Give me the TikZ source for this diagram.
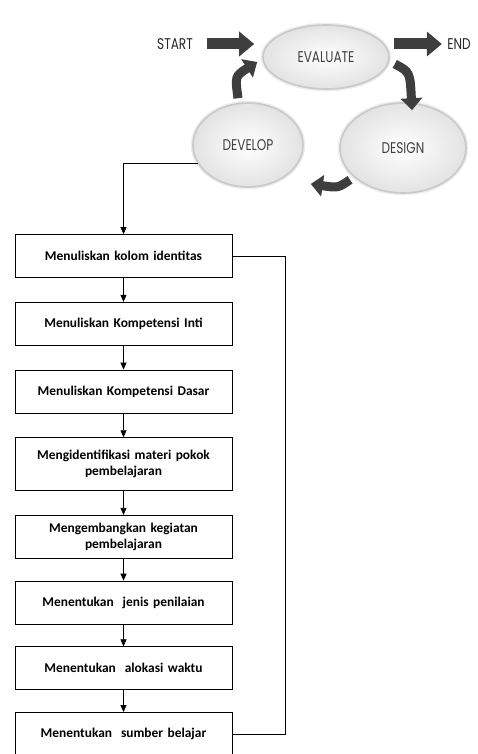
\documentclass[tikz,border=0pt]{standalone}
\usepackage{fontspec}
\newfontfamily\boxfont{Carlito}
\newfontfamily\cyclefont[FakeStretch=0.78]{Poppins}
\usetikzlibrary{positioning,shapes.geometric,arrows.meta}

\definecolor{arrowgray}{RGB}{62,62,62}

\begin{document}
\begin{tikzpicture}[x=1pt, y=1pt, node distance=24pt,
                    stepbox/.style={rectangle, draw, line width=0.7pt, minimum width=217pt,
                                    minimum height=43pt, align=center, text width=205pt,
                                    font=\boxfont\bfseries\fontsize{13.4}{16.3}\selectfont},
                    phase/.style={ellipse, draw=gray!42, line width=1.6pt, inner color=white,
                                  outer color=gray!22, preaction={draw=gray!15, line width=4.5pt},
                                  font=\cyclefont\fontsize{15.5}{17}\selectfont, text=black!75},
                    label/.style={font=\cyclefont\fontsize{15.5}{17}\selectfont, text=black!85},
                    bigarrow/.style={arrowgray, line width=9pt, -{Triangle[width=21pt, length=12pt]}},
                    flow/.style={line width=0.7pt, -{Triangle[width=6pt, length=7pt]}}]

  \useasboundingbox (0,0) rectangle (477,-754);

  % cycle
  \node[phase, minimum width=126pt, minimum height=64pt] (evaluate) at (326,-57) {EVALUATE};
  \node[phase, minimum width=110pt, minimum height=84pt] (develop) at (248,-145) {DEVELOP};
  \node[phase, minimum width=126pt, minimum height=90pt] (design) at (403,-148) {DESIGN};
  \node[label] (start) at (175,-44) {START};
  \node[label] (end) at (459,-44) {END};

  \draw[bigarrow, line width=11pt, -{Triangle[width=24pt, length=15pt]}]
    ([xshift=11pt]start.east) -- ([xshift=-8pt]start.east -| evaluate.west);
  \draw[bigarrow, line width=11pt, -{Triangle[width=24pt, length=15pt]}]
    ([xshift=4pt]end.west -| evaluate.east) -- ([xshift=-2pt]end.west);
  \draw[bigarrow] ([xshift=5pt, yshift=-7pt]evaluate.east) .. controls (410,-72) .. ([xshift=9pt, yshift=-8pt]design.north);
  \draw[bigarrow] ([xshift=-53pt, yshift=14pt]design.south) .. controls (338,-188) .. ([xshift=7pt, yshift=-39pt]develop.east);
  \draw[bigarrow] ([xshift=-10pt, yshift=4pt]develop.north) .. controls (235,-76) .. ([xshift=-5pt, yshift=-5pt]evaluate.west);

  % steps
  \node[stepbox] (b1) at (123.5,-256) {Menuliskan kolom identitas};
  \node[stepbox] (b2) [below=of b1] {Menuliskan Kompetensi Inti};
  \node[stepbox] (b3) [below=of b2] {Menuliskan Kompetensi Dasar};
  \node[stepbox, minimum height=53pt] (b4) [below=of b3] {Mengidentifikasi materi pokok\\pembelajaran};
  \node[stepbox] (b5) [below=of b4] {Mengembangkan kegiatan\\pembelajaran};
  \node[stepbox] (b6) [below=22pt of b5] {Menentukan\ \ jenis penilaian};
  \node[stepbox] (b7) [below=22pt of b6] {Menentukan\ \ alokasi waktu};
  \node[stepbox] (b8) [below=22pt of b7] {Menentukan\ \ sumber belajar};

  \draw[flow] (develop.200) -| (b1.north);

  \path[flow]
    (b1) edge (b2)
    (b2) edge (b3)
    (b3) edge (b4)
    (b4) edge (b5)
    (b5) edge (b6)
    (b6) edge (b7)
    (b7) edge (b8);

  \draw[line width=0.7pt] (b1.east) -- ([xshift=53pt]b1.east) |- (b8.east);

\end{tikzpicture}
\end{document}
